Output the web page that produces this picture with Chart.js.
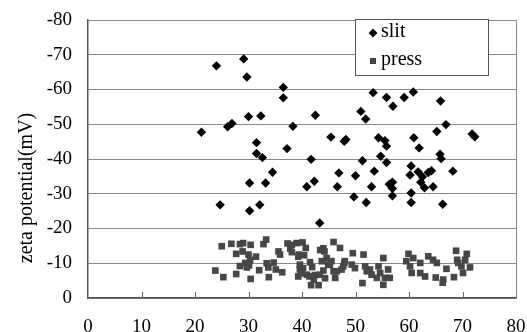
<!DOCTYPE html>
<html>
<head>
<meta charset="utf-8">
<script src="https://cdn.jsdelivr.net/npm/chart.js@4.4.1/dist/chart.umd.min.js"></script>
<style>
  html, body { margin: 0; padding: 0; background: #fff; }
  #wrap { width: 527px; height: 332px; position: relative; }
</style>
</head>
<body>
<div id="wrap"><canvas id="zetaChart"></canvas></div>
<script>
// slit (diamonds)
const slitX = [24.0, 29.1, 29.7, 36.5, 36.5, 30.0, 32.3, 38.3, 21.2, 26.1, 26.9, 31.5, 37.2, 31.5, 32.6, 34.5, 30.2, 33.2, 24.7, 30.2, 32.1,
  53.3, 55.8, 59.1, 57.0, 42.5, 51.0, 51.9, 45.4, 47.9, 48.2, 54.3, 55.5, 55.8, 54.7, 41.7, 51.3, 55.8, 46.9, 53.5, 50.0, 42.3, 40.9, 46.6,
  53.0, 56.3, 56.9, 56.9, 49.7, 56.9, 52.0, 43.3, 60.8, 65.9, 66.9, 65.2, 71.8, 72.3, 60.9, 61.9, 65.8, 66.0, 60.4, 61.7, 60.2, 62.5,
  63.6, 64.2, 68.2, 62.2, 62.9, 64.5, 60.4, 60.4, 66.3];
const slitY = [-66.8, -68.8, -63.6, -60.6, -57.6, -52.2, -52.4, -49.4, -47.7, -49.3, -50.2, -44.7, -43.0, -41.6, -40.4, -36.2, -33.1, -33.1, -26.8, -25.1, -26.8,
  -59.1, -57.7, -57.7, -55.2, -52.6, -53.7, -51.5, -46.3, -45.1, -45.6, -46.1, -45.3, -43.7, -40.8, -39.9, -39.5, -39.0, -36.0, -36.5, -35.2, -33.6, -32.0, -32.0,
  -32.0, -32.7, -33.3, -31.5, -29.1, -29.4, -27.5, -21.6, -59.3, -56.7, -49.9, -47.9, -47.2, -46.4, -46.1, -43.2, -41.4, -40.1, -38.0, -36.3, -35.4, -34.9,
  -36.1, -36.6, -36.5, -33.3, -31.7, -32.0, -30.2, -27.5, -27.0];

// press (squares)
const pressX = [23.8, 25.3, 25.0, 26.8, 27.7, 27.7, 28.4, 28.9, 29.0, 28.4, 29.4, 29.7, 30.0, 30.3, 30.1, 30.4, 30.4, 31.4, 32.0, 32.8,
  33.3, 33.4, 33.7, 33.8, 34.7, 35.1, 35.6, 35.9, 36.3, 37.3, 37.8, 38.1, 38.1, 39.0, 39.3, 39.4, 39.6, 39.6, 39.3, 39.9, 40.1, 40.2,
  40.4, 40.7, 40.9, 41.5, 41.9, 41.4, 41.7, 42.2, 42.4, 43.1, 43.3, 43.4, 43.7, 44.0, 44.0, 44.2, 44.6, 44.9, 44.3, 45.2, 45.5, 45.9,
  45.9, 46.2, 46.5, 47.1, 47.4, 47.7, 47.9, 48.0, 49.3, 49.5, 49.9, 51.3, 51.5, 51.8, 52.1, 52.7, 53.0, 54.0, 54.3, 54.6, 55.2, 55.2,
  55.5, 56.1, 56.4, 59.5, 59.9, 60.2, 60.5, 60.8, 62.1, 62.1, 63.0, 63.6, 64.5, 65.2, 65.0, 66.3, 66.4, 67.0, 68.4, 68.8, 69.0, 69.2,
  69.8, 70.1, 70.5, 70.8, 71.4];
const pressY = [-7.9, -6.0, -14.9, -15.6, -6.9, -12.7, -15.5, -13.4, -15.8, -9.2, -10.1, -8.8, -12.5, -11.0, -9.4, -15.3, -5.5, -11.9, -8.0, -15.5,
  -16.8, -10.0, -8.8, -6.0, -10.2, -8.2, -13.4, -12.5, -7.4, -15.7, -14.2, -13.2, -15.3, -15.8, -11.9, -12.5, -9.6, -8.2, -6.2, -7.1, -16.0, -8.6,
  -12.3, -14.4, -6.7, -10.3, -8.9, -6.2, -3.7, -5.3, -6.6, -3.7, -6.7, -13.8, -10.6, -7.9, -14.3, -13.4, -11.5, -9.6, -5.7, -9.5, -10.6, -7.7,
  -16.1, -5.8, -7.7, -14.4, -8.2, -9.1, -10.0, -10.6, -9.6, -12.9, -8.6, -4.3, -12.5, -9.1, -7.7, -8.2, -6.7, -5.8, -9.1, -7.2, -11.5, -3.8,
  -5.8, -8.2, -5.8, -10.6, -12.7, -9.1, -7.2, -11.5, -10.1, -7.2, -6.2, -12.0, -11.0, -10.1, -5.9, -4.4, -5.3, -8.4, -6.0, -13.6, -11.0, -10.1,
  -9.1, -7.2, -11.0, -12.7, -8.8];

const xTicks = [0, 10, 20, 30, 40, 50, 60, 70, 80];
const yTicks = [-80, -70, -60, -50, -40, -30, -20, -10, 0];
const seriesNames = ["slit", "press"];
const yTitle = "zeta potential(mV)";

const FONT = "'Liberation Serif', 'Times New Roman', serif";

function toPoints(xs, ys) {
  return xs.map((x, i) => ({ x: x, y: ys[i] }));
}

// extra drawing: inner x tick marks, y title, legend box
const decorPlugin = {
  id: "decor",
  afterDraw(chart) {
    const ctx = chart.ctx;
    const area = chart.chartArea;
    const xs = chart.scales.x;

    ctx.save();
    // small tick marks pointing up from the x axis
    ctx.strokeStyle = "#666";
    ctx.lineWidth = 1;
    xTicks.slice(1, -1).forEach((v) => {
      const px = Math.round(xs.getPixelForValue(v)) + 0.5;
      ctx.beginPath();
      ctx.moveTo(px, area.bottom);
      ctx.lineTo(px, area.bottom - 6);
      ctx.stroke();
    });

    // y axis title
    ctx.fillStyle = "#000";
    ctx.font = "20px " + FONT;
    ctx.textAlign = "center";
    ctx.textBaseline = "middle";
    ctx.translate(27, 188);
    ctx.rotate(-Math.PI / 2);
    ctx.fillText(yTitle, 0, 0);
    ctx.restore();

    // legend box
    ctx.save();
    const lx = 355, ly = 19, lw = 133, lh = 56;
    ctx.fillStyle = "#fff";
    ctx.fillRect(lx, ly, lw, lh);
    ctx.strokeStyle = "#555";
    ctx.lineWidth = 1;
    ctx.strokeRect(lx + 0.5, ly + 0.5, lw, lh);
    chart.data.datasets.forEach((ds, i) => {
      const cy = ly + 14 + i * 28;
      Chart.helpers.drawPoint(ctx, {
        pointStyle: ds.pointStyle,
        radius: i === 0 ? 4.4 : 4.0,
        borderWidth: 0,
        rotation: 0
      }, 373, cy);
      ctx.fillStyle = ds.backgroundColor;
      ctx.fill();
      ctx.fillStyle = "#000";
      ctx.font = "20px " + FONT;
      ctx.textAlign = "left";
      ctx.textBaseline = "middle";
      ctx.fillText(seriesNames[i], 381, cy - 1);
    });
    ctx.restore();
  }
};

new Chart(document.getElementById("zetaChart"), {
  type: "scatter",
  data: {
    datasets: [
      {
        label: seriesNames[0],
        data: toPoints(slitX, slitY),
        pointStyle: "rectRot",
        pointRadius: 4.7,
        backgroundColor: "#000",
        borderColor: "#000",
        borderWidth: 0,
      },
      {
        label: seriesNames[1],
        data: toPoints(pressX, pressY),
        pointStyle: "rect",
        pointRadius: 4.7,
        backgroundColor: "#474747",
        borderColor: "#474747",
        borderWidth: 0,
      },
    ],
  },
  options: {
    responsive: true,
    maintainAspectRatio: false,
    animation: false,
    layout: { padding: { top: 20, right: 11, left: 0, bottom: 0 } },
    plugins: {
      legend: { display: false },
      tooltip: { enabled: false },
    },
    scales: {
      x: {
        type: "linear",
        min: xTicks[0],
        max: xTicks[xTicks.length - 1],
        afterBuildTicks: (s) => { s.ticks = xTicks.map((v) => ({ value: v })); },
        afterFit: (s) => { s.height = 34; s.paddingLeft = 0; s.paddingRight = 0; },
        grid: {
          drawTicks: false,
          color: (c) => (c.tick && c.tick.value === 80 ? "#888" : "rgba(0,0,0,0)"),
        },
        border: { color: "#555", width: 1.5 },
        ticks: { color: "#000", padding: 18, maxRotation: 0, font: { family: FONT, size: 19 } },
      },
      y: {
        type: "linear",
        reverse: true,
        min: yTicks[0],
        max: yTicks[yTicks.length - 1],
        afterBuildTicks: (s) => { s.ticks = yTicks.map((v) => ({ value: v })); },
        afterFit: (s) => { s.width = 88; s.paddingTop = 0; s.paddingBottom = 0; },
        grid: { drawTicks: false, color: "#888", lineWidth: 1 },
        border: { color: "#555", width: 1.5 },
        ticks: { color: "#000", padding: 16, font: { family: FONT, size: 19 } },
      },
    },
  },
  plugins: [decorPlugin],
});
</script>
</body>
</html>
